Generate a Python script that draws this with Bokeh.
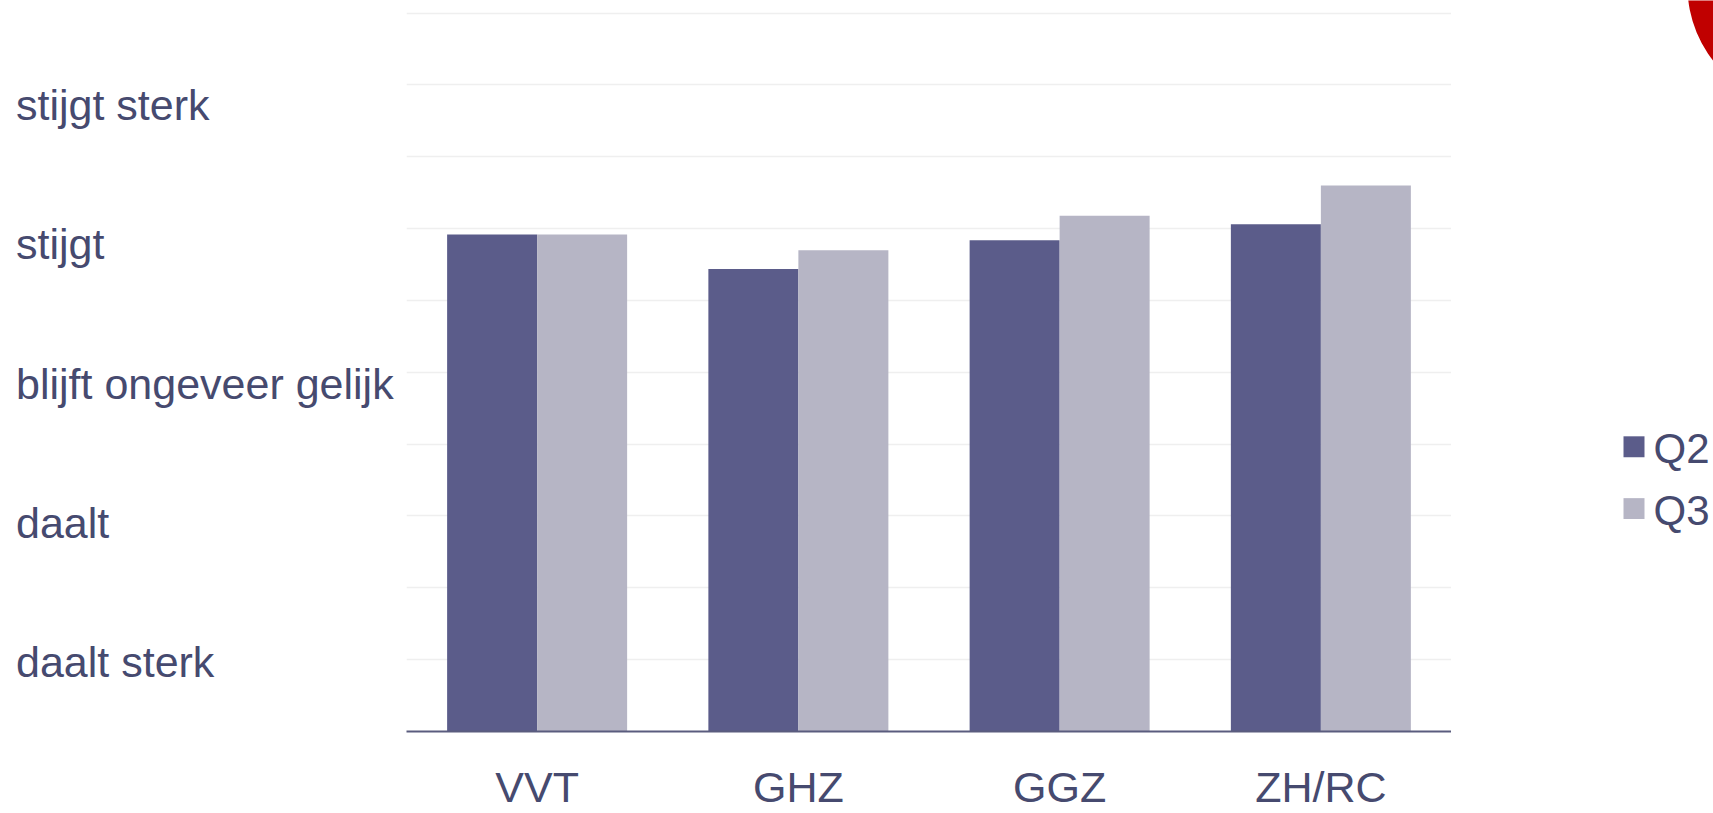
from bokeh.plotting import figure
from bokeh.layouts import row
from bokeh.models import FactorRange, Range1d, FixedTicker, ColumnDataSource, Grid
from bokeh.transform import dodge
from bokeh.core.properties import value
from bokeh.embed import file_html
from bokeh.resources import INLINE

# ---- data ----
categories = ["VVT", "GHZ", "GGZ", "ZH/RC"]
series = ["Q2", "Q3"]
q2_values = [3.96, 3.72, 3.92, 4.03]
q3_values = [3.96, 3.85, 4.09, 4.30]
level_values = [1, 2, 3, 4, 5]
level_labels = ["daalt sterk", "daalt", "blijft ongeveer gelijk", "stijgt", "stijgt sterk"]
grid_values = [1.0, 1.5, 2.0, 2.5, 3.0, 3.5, 4.0, 4.5, 5.0, 5.5]

# ---- styles / layout ----
FONT = "Liberation Sans"
TEXT = "#464a6f"
C_Q2 = "#5b5c8a"
C_Q3 = "#b6b5c5"
GRID = "#efefef"
AXIS = "#5a5c7e"
RED = "#c00000"

W, H = 1713, 813
FRAME_L, FRAME_R, FRAME_B = 406, 1451, 733
PX_PER_UNIT = 144.06
y_start = 0.5
y_range = Range1d(y_start, y_start + FRAME_B / PX_PER_UNIT)


def bare(fig):
    fig.outline_line_color = None
    fig.background_fill_color = "white"
    fig.border_fill_color = "white"
    for g in list(fig.center):
        if isinstance(g, Grid):
            g.visible = False


common = dict(height=H, output_backend="svg", toolbar_location=None,
              min_border_left=0, min_border_right=0,
              min_border_top=0, min_border_bottom=H - FRAME_B)

# ---- left panel: level labels (left aligned text boxes) ----
left = figure(width=FRAME_L, x_range=Range1d(0, FRAME_L), y_range=y_range,
              x_axis_location=None, y_axis_location=None, **common)
bare(left)
lab_src = ColumnDataSource(dict(y=[2.922 + 0.969 * (v - 3) for v in level_values],
                                text=level_labels))
left.text(x=15.5, y="y", text="text", source=lab_src,
          text_font=value(FONT), text_font_size="43px", text_color=TEXT,
          text_align="left", text_baseline="alphabetic")

# ---- main chart ----
p = figure(width=FRAME_R - FRAME_L, x_range=FactorRange(factors=categories), y_range=y_range,
           y_axis_location=None, **common)
bare(p)
p.add_layout(Grid(dimension=1, ticker=FixedTicker(ticks=grid_values),
                  grid_line_color=GRID, grid_line_width=1.5))

src = ColumnDataSource(dict(cat=categories, q2=q2_values, q3=q3_values))
bw = 0.3445
p.vbar(x=dodge("cat", -bw / 2, range=p.x_range), top="q2", bottom=y_start, width=bw,
       source=src, fill_color=C_Q2, line_color=None)
p.vbar(x=dodge("cat", bw / 2, range=p.x_range), top="q3", bottom=y_start, width=bw,
       source=src, fill_color=C_Q3, line_color=None)

p.xaxis.axis_line_color = AXIS
p.xaxis.axis_line_width = 2
p.xaxis.major_tick_line_color = None
p.xaxis.major_tick_out = 0
p.xaxis.major_tick_in = 0
p.xaxis.major_label_standoff = 31
p.xaxis.major_label_text_font = FONT
p.xaxis.major_label_text_font_size = "43px"
p.xaxis.major_label_text_color = TEXT

# ---- right panel: legend and the red corner mark ----
RW = W - FRAME_R
right = figure(width=RW, x_range=Range1d(0, RW), y_range=Range1d(FRAME_B, 0),
               x_axis_location=None, y_axis_location=None, **common)
bare(right)
right.circle(x=[356], y=[-14], radius=120, fill_color=RED, line_color=None)

sq_y = [447.5 + 62 * i for i in range(len(series))]
right.rect(x=182.5, y=sq_y, width=21, height=21, fill_color=[C_Q2, C_Q3], line_color=None)
leg_src = ColumnDataSource(dict(y=[v + 1.5 for v in sq_y], text=series))
right.text(x=202, y="y", text="text", source=leg_src,
           text_font=value(FONT), text_font_size="42px", text_color=TEXT,
           text_align="left", text_baseline="alphabetic")

layout = row(left, p, right, spacing=0)
open("out.html", "w").write(file_html(layout, INLINE))
